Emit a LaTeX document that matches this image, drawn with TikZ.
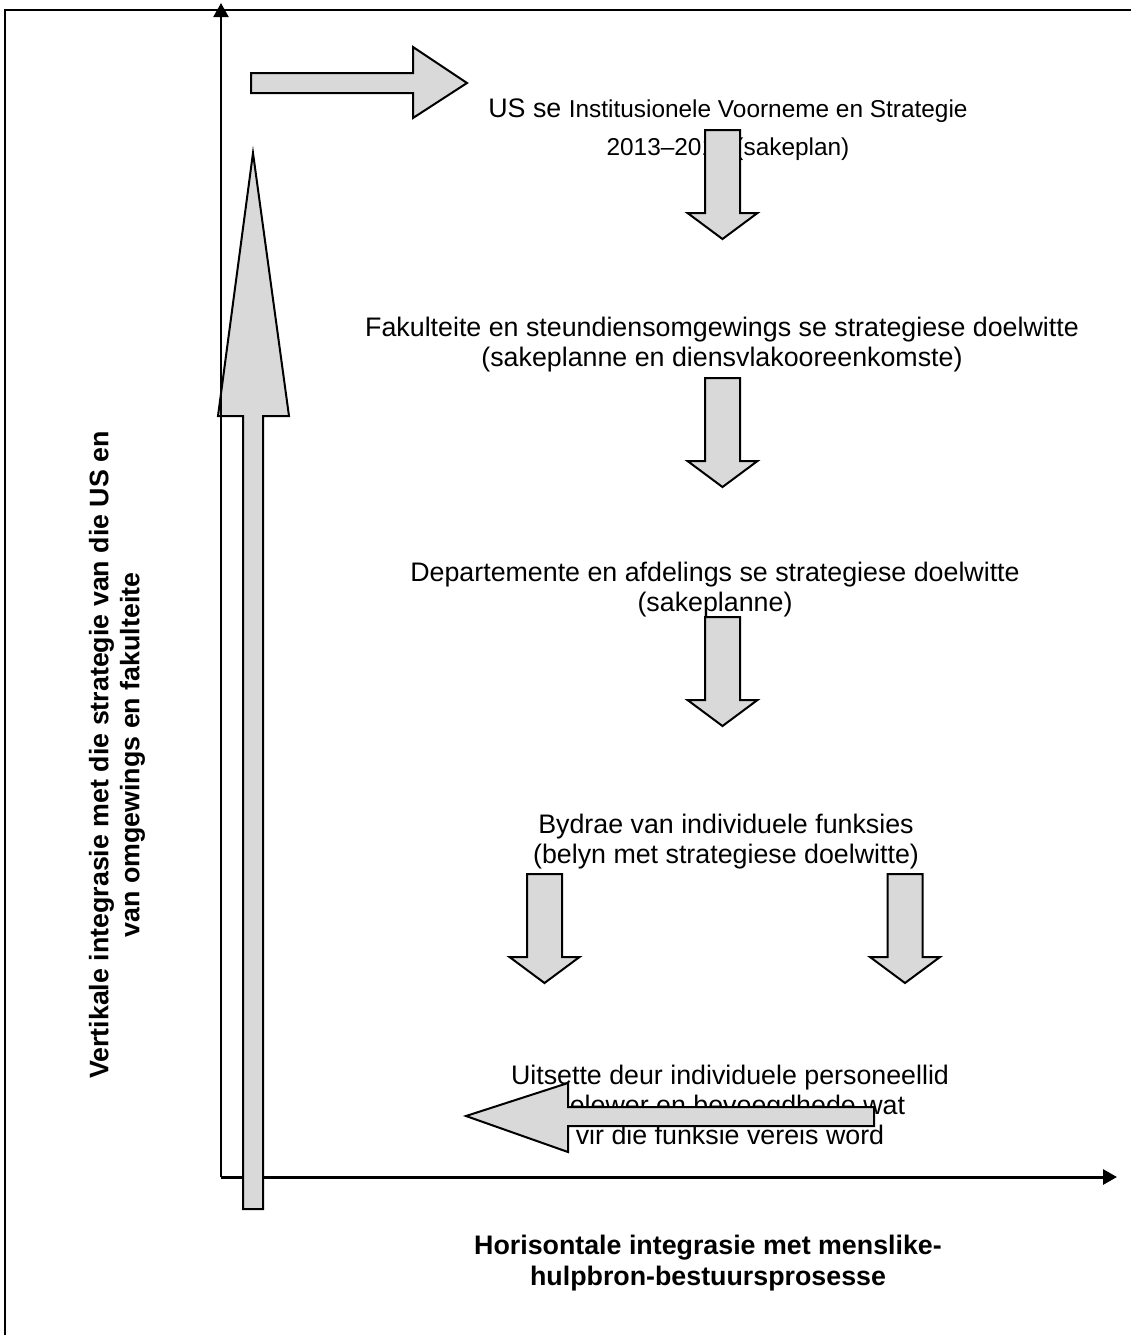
\documentclass[tikz,border=0pt]{standalone}
\usepackage{fontspec}
\setmainfont{Liberation Sans}
\usetikzlibrary{arrows.meta}

\definecolor{pylgrys}{RGB}{217,217,217}

\tikzset{
  blokpyl/.style={draw=black,fill=pylgrys,line width=1pt,line join=miter},
  as/.style={-{Triangle[length=7pt,width=7.5pt]}},
  teks/.style={align=center,inner sep=0pt,font=\fontsize{13.4}{15}\selectfont},
  asteks/.style={teks,font=\bfseries\fontsize{13.4}{15.5}\selectfont}
}

\begin{document}
\begin{tikzpicture}[x=0.5pt,y=-0.5pt]
  \useasboundingbox (0,0) rectangle (1131,1335);
  \draw[line width=1.1pt] (5,1335)--(5,10)--(1131,10);

  \coordinate (oorsprong) at (221,1177);
  \coordinate (ytop) at (221,3);
  \coordinate (xend) at (1117,1177);

  % vlakke
  \node[teks] (us) at (728,130) {US se {\fontsize{12.2}{14}\selectfont Institusionele Voorneme en Strategie}\\[4pt]
    {\fontsize{12.2}{14}\selectfont 2013–2018 (sakeplan)}};
  \node[teks] (fak) at (722,345) {Fakulteite en steundiensomgewings se strategiese doelwitte\\(sakeplanne en diensvlakooreenkomste)};
  \node[teks] (dep) at (715,590) {Departemente en afdelings se strategiese doelwitte\\(sakeplanne)};
  \node[teks] (bydrae) at (726,842) {Bydrae van individuele funksies\\(belyn met strategiese doelwitte)};
  \node[teks] (uitset) at (730,1105) {Uitsette deur individuele personeellid\\gelewer en bevoegdhede wat\\vir die funksie vereis word};

  % asse
  \draw[as,line width=1.5pt] (oorsprong)--(xend);
  \node[asteks] (hor) at (708,1263) {Horisontale integrasie met menslike-\\hulpbron-bestuursprosesse};
  \node[asteks,rotate=90] (vert) at (117,755) {Vertikale integrasie met die strategie van die US en\\van omgewings en fakulteite};

  % blokpyle
  \draw[blokpyl] (243,1209)--(243,416)--(218,416)--(253,153)--(289,416)--(263,416)--(263,1209)--cycle;
  \draw[blokpyl] (251,73)--(413,73)--(413,47)--(467,83)--(413,118)--(413,93)--(251,93)--cycle;
  \foreach \px/\py in {722.5/130,722.5/378,722.5/617,544.5/874,905/874}
    \draw[blokpyl] (\px-17.5,\py)--(\px+17.5,\py)--(\px+17.5,\py+83)--(\px+35,\py+83)
      --(\px,\py+109)--(\px-35,\py+83)--(\px-17.5,\py+83)--cycle;
  \draw[blokpyl] (874,1107)--(568,1107)--(568,1083)--(466,1116)--(568,1152)--(568,1126)--(874,1126)--cycle;

  \draw[as,line width=1pt] (oorsprong)--(ytop);
\end{tikzpicture}
\end{document}
